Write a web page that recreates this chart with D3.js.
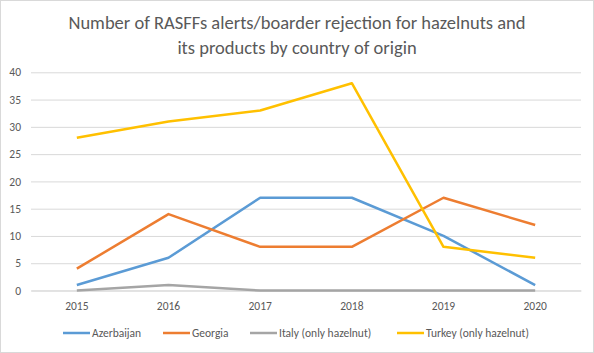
<!DOCTYPE html>
<html><head><meta charset="utf-8">
<script src="https://cdn.jsdelivr.net/npm/d3@7"></script>
<style>body{margin:0;background:#fff}svg{display:block}</style>
</head><body>
<script>
const years = ["2015","2016","2017","2018","2019","2020"];
const azerbaijan = [1, 6, 17, 17, 10, 1];
const georgia = [4, 14, 8, 8, 17, 12];
const italy = [0, 1, 0, 0, 0, 0];
const turkey = [28, 31, 33, 38, 8, 6];
const seriesNames = ["Azerbaijan", "Georgia", "Italy (only hazelnut)", "Turkey (only hazelnut)"];
const colors = ["#5B9BD5", "#ED7D31", "#A5A5A5", "#FFC000"];
const yTicks = [0,5,10,15,20,25,30,35,40];
const titleLines = ["Number of RASFFs alerts/boarder rejection for hazelnuts and", "its products by country of origin"];

const W = 594, H = 353;
const svg = d3.select("body").append("svg").attr("width", W).attr("height", H);
svg.append("rect").attr("x",0.5).attr("y",0.5).attr("width",W-1).attr("height",H-1).attr("fill","#fff").attr("stroke","#d9d9d9");

const font = "Calibri, Carlito, 'Open Sans', sans-serif";
const x = d3.scaleBand().domain(years).range([31, 581]);
const y = d3.scaleLinear().domain([0, 40]).range([290.5, 72.3]);

svg.append("g").selectAll("text").data(titleLines).join("text")
  .attr("x", 297).attr("y", (d,i)=>29 + i*24.5).attr("text-anchor","middle")
  .attr("font-family", font).attr("font-size", 18.5).attr("fill", "#595959").text(d=>d);

const yAxis = svg.append("g").attr("transform","translate(31,0)")
  .call(d3.axisLeft(y).tickValues(yTicks).tickSize(-(581-31)).tickPadding(10));
yAxis.select(".domain").remove();
yAxis.selectAll(".tick line").attr("stroke","#d9d9d9").attr("stroke-width",1);
yAxis.selectAll(".tick text").attr("font-family", font).attr("font-size", 11.5).attr("fill","#595959");

const xAxis = svg.append("g").attr("transform","translate(0,290.5)")
  .call(d3.axisBottom(x).tickSize(0).tickPadding(11));
xAxis.select(".domain").attr("stroke","#d9d9d9");
xAxis.selectAll(".tick text").attr("font-family", font).attr("font-size", 11.5).attr("fill","#595959");

const allSeries = [azerbaijan, georgia, italy, turkey];
const line = d3.line().x((d,i)=>x(years[i]) + x.bandwidth()/2).y(d=>y(d));
svg.append("g").selectAll("path").data(allSeries).join("path")
  .attr("d", line).attr("fill","none").attr("stroke",(d,i)=>colors[i])
  .attr("stroke-width", 2.5).attr("stroke-linejoin","round");

const legendX = [63, 163, 250, 397];
const lg = svg.append("g").selectAll("g").data(seriesNames).join("g")
  .attr("transform",(d,i)=>`translate(${legendX[i]},333)`);
lg.append("line").attr("x1",0).attr("x2",27).attr("stroke",(d,i)=>colors[i]).attr("stroke-width",2.5);
lg.append("text").attr("x",29).attr("y",4).attr("font-family", font).attr("font-size",11.5).attr("fill","#595959").text(d=>d);
</script>
</body></html>
